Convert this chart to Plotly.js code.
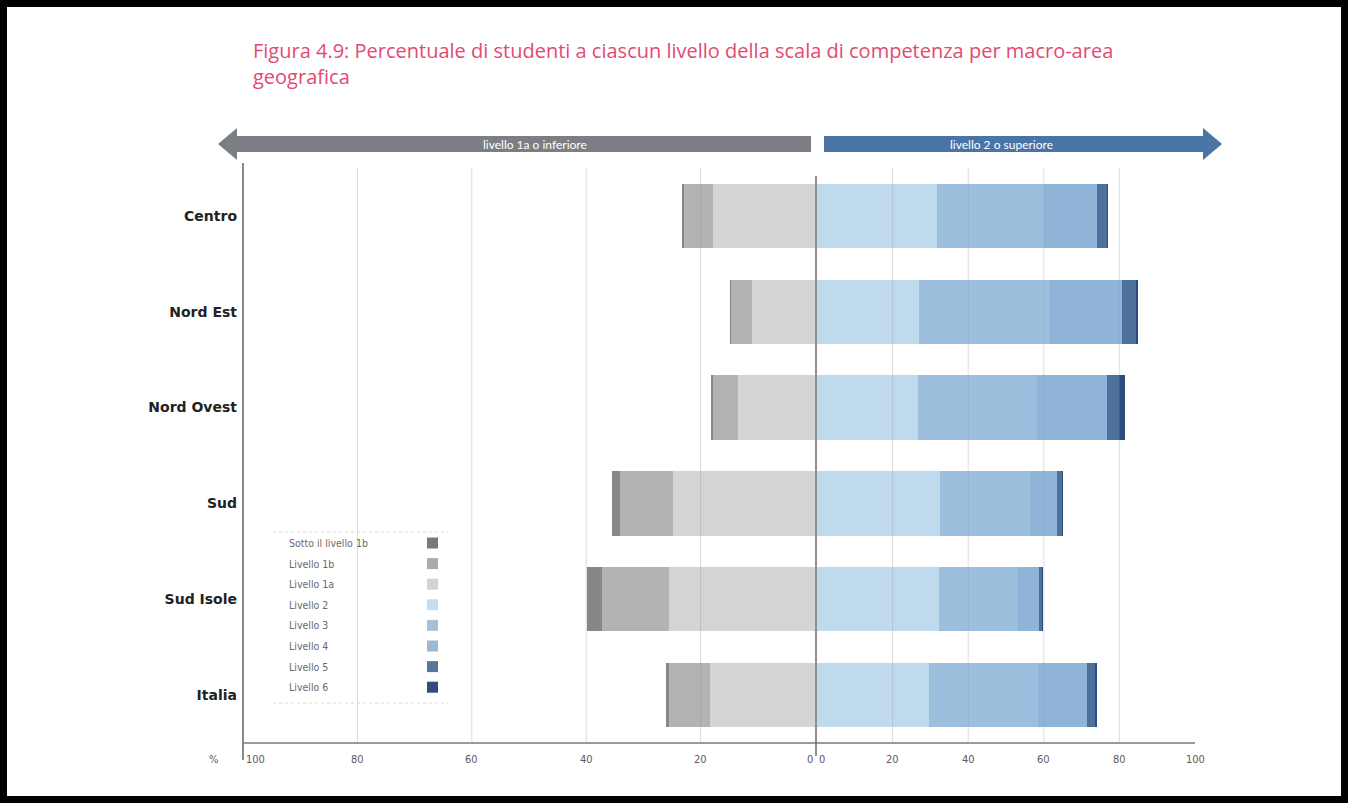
<!DOCTYPE html>
<html>
<head>
<meta charset="utf-8">
<script src="https://cdn.plot.ly/plotly-3.0.1.min.js"></script>
<style>
  html, body { margin: 0; padding: 0; background: #fff; }
  #wrap { position: relative; width: 1348px; height: 803px; }
  #chart { width: 1348px; height: 803px; }
  #frame { position: absolute; left: 0; top: 0; width: 1348px; height: 803px; box-sizing: border-box; border: 7px solid #000; pointer-events: none; }
</style>
</head>
<body>
<div id="wrap"><div id="chart"></div><div id="frame"></div></div>
<script>
// ---- data ----
const areas = ["Centro", "Nord Est", "Nord Ovest", "Sud", "Sud Isole", "Italia"];
const levels = ["Sotto il livello 1b", "Livello 1b", "Livello 1a", "Livello 2", "Livello 3", "Livello 4", "Livello 5", "Livello 6"];
const sotto1b = [0.4, 0.3, 0.4, 1.4, 2.7, 0.5];
const liv1b   = [5.1, 3.6, 4.3, 9.3, 11.7, 7.1];
const liv1a   = [17.8, 11.0, 13.5, 24.8, 25.5, 18.4];
const liv2    = [31.8, 27.1, 26.6, 32.6, 32.4, 29.7];
const liv3    = [28.2, 34.5, 31.6, 23.7, 20.8, 28.7];
const liv4    = [14.2, 19.2, 18.6, 7.1, 5.5, 12.9];
const liv5    = [2.5, 3.6, 3.2, 1.3, 0.8, 2.3];
const liv6    = [0.4, 0.6, 1.4, 0.3, 0.2, 0.4];
const leftTicks = [100, 80, 60, 40, 20, 0];
const rightTicks = [0, 20, 40, 60, 80, 100];
const titleText = "Figura 4.9: Percentuale di studenti a ciascun livello della scala di competenza per macro-area<br>geografica";
const arrowLeftText = "livello 1a o inferiore";
const arrowRightText = "livello 2 o superiore";

const colors = {
  "Sotto il livello 1b": "#858789",
  "Livello 1b": "#b1b3b4",
  "Livello 1a": "#d4d4d4",
  "Livello 2": "#bfdaed",
  "Livello 3": "#9cbfdd",
  "Livello 4": "#8fb4d7",
  "Livello 5": "#4e719b",
  "Livello 6": "#2d4d7d"
};
const legendColors = {
  "Sotto il livello 1b": "#77797b",
  "Livello 1b": "#a9abad",
  "Livello 1a": "#d2d3d4",
  "Livello 2": "#c8dcee",
  "Livello 3": "#a6c0d9",
  "Livello 4": "#9fb8d1",
  "Livello 5": "#58769a",
  "Livello 6": "#2f4c7b"
};

// ---- geometry helpers (pixel -> paper) ----
const L = 243, R = 1195, T = 168, B = 743, W = 1348, H = 803;
const fx = px => (px - L) / (R - L);
const fy = py => (B - py) / (B - T);
const leftEnd = fx(815), rightStart = fx(817);

function bar(vals, name, axis) {
  return {
    type: "bar", orientation: "h", y: areas, x: vals, name: name,
    xaxis: axis, yaxis: "y",
    marker: { color: colors[name], line: { width: 0 } },
    width: 0.67, showlegend: false, hoverinfo: "x+name"
  };
}

const traces = [
  bar(liv1a, "Livello 1a", "x"),
  bar(liv1b, "Livello 1b", "x"),
  bar(sotto1b, "Sotto il livello 1b", "x"),
  bar(liv2, "Livello 2", "x2"),
  bar(liv3, "Livello 3", "x2"),
  bar(liv4, "Livello 4", "x2"),
  bar(liv5, "Livello 5", "x2"),
  bar(liv6, "Livello 6", "x2")
];

const shapes = [];
const annotations = [];

// gridlines drawn faintly above bars
[20, 40, 60, 80].forEach(v => {
  shapes.push({ type: "line", xref: "x", yref: "paper", x0: v, x1: v, y0: 0, y1: 1, layer: "above",
    line: { color: "rgba(150,150,150,0.35)", width: 1 } });
  shapes.push({ type: "line", xref: "x2", yref: "paper", x0: v, x1: v, y0: 0, y1: 1, layer: "above",
    line: { color: "rgba(150,150,150,0.30)", width: 1 } });
});
// bottom axis line
shapes.push({ type: "line", xref: "paper", yref: "paper", x0: 0, x1: 1, y0: 0, y1: 0, layer: "above",
  line: { color: "#9a9a9a", width: 2 } });
// left vertical axis line
shapes.push({ type: "line", xref: "paper", yref: "paper", x0: 0, x1: 0, y0: fy(760), y1: fy(163), layer: "above",
  line: { color: "#8a8a8a", width: 2 } });
// zero line
shapes.push({ type: "line", xref: "paper", yref: "paper", x0: fx(816), x1: fx(816), y0: fy(756), y1: fy(176), layer: "above",
  line: { color: "#6a6a6a", width: 1.5 } });

// arrows
const yA = [128, 136, 144, 152, 160].map(fy);
shapes.push({ type: "path", xref: "paper", yref: "paper", layer: "above",
  path: `M ${fx(218)} ${yA[2]} L ${fx(237)} ${yA[0]} L ${fx(237)} ${yA[1]} L ${fx(811)} ${yA[1]} L ${fx(811)} ${yA[3]} L ${fx(237)} ${yA[3]} L ${fx(237)} ${yA[4]} Z`,
  fillcolor: "#7b7f84", line: { width: 0 } });
shapes.push({ type: "path", xref: "paper", yref: "paper", layer: "above",
  path: `M ${fx(1222)} ${yA[2]} L ${fx(1203)} ${yA[0]} L ${fx(1203)} ${yA[1]} L ${fx(824)} ${yA[1]} L ${fx(824)} ${yA[3]} L ${fx(1203)} ${yA[3]} L ${fx(1203)} ${yA[4]} Z`,
  fillcolor: "#4a74a5", line: { width: 0 } });
annotations.push({ xref: "paper", yref: "paper", x: fx(535), y: yA[2], text: arrowLeftText, showarrow: false,
  font: { family: "Lato, sans-serif", size: 12, color: "#ffffff" }, xanchor: "center", yanchor: "middle" });
annotations.push({ xref: "paper", yref: "paper", x: fx(1001), y: yA[2], text: arrowRightText, showarrow: false,
  font: { family: "Lato, sans-serif", size: 12, color: "#ffffff" }, xanchor: "center", yanchor: "middle" });

// tick labels (from tick arrays), nudged like the original
const tickFont = { family: "Liberation Sans Narrow, DejaVu Sans Condensed, sans-serif", size: 11, color: "#5a5a5a" };
leftTicks.forEach(v => {
  annotations.push({ xref: "x", yref: "paper", x: v, y: fy(759), text: String(v), showarrow: false,
    xshift: v === 100 ? 12 : (v === 0 ? -5 : 0), font: tickFont, xanchor: "center", yanchor: "middle" });
});
rightTicks.forEach(v => {
  annotations.push({ xref: "x2", yref: "paper", x: v, y: fy(759), text: String(v), showarrow: false,
    xshift: v === 0 ? 5 : 0, font: tickFont, xanchor: "center", yanchor: "middle" });
});
// percent sign
annotations.push({ xref: "paper", yref: "paper", x: fx(213), y: fy(759), text: "%", showarrow: false,
  font: tickFont, xanchor: "center", yanchor: "middle" });

// custom legend (swatch on the right)
shapes.push({ type: "line", xref: "paper", yref: "paper", x0: fx(273), x1: fx(448), y0: fy(532), y1: fy(532),
  line: { color: "#d8d8d8", width: 1, dash: "dot" } });
shapes.push({ type: "line", xref: "paper", yref: "paper", x0: fx(273), x1: fx(448), y0: fy(703), y1: fy(703),
  line: { color: "#d8d8d8", width: 1, dash: "dot" } });
levels.forEach((lv, i) => {
  const py = 543 + i * 20.6;
  annotations.push({ xref: "paper", yref: "paper", x: fx(287), y: fy(py), text: lv, showarrow: false,
    font: { family: "Liberation Sans Narrow, DejaVu Sans Condensed, sans-serif", size: 10.5, color: "#6a6a6a" },
    xanchor: "left", yanchor: "middle" });
  shapes.push({ type: "rect", xref: "paper", yref: "paper", x0: fx(427), x1: fx(438), y0: fy(py - 5.5), y1: fy(py + 5.5),
    fillcolor: legendColors[lv], line: { width: 0 } });
});

// title as two-line annotation placed like the original
annotations.push({ xref: "paper", yref: "paper", x: fx(251), y: fy(35), xanchor: "left", yanchor: "top",
  align: "left", text: titleText, showarrow: false,
  font: { family: "Open Sans, sans-serif", size: 20, color: "#e24a72" } });

const layout = {
  width: W, height: H,
  margin: { l: L, r: W - R, t: T, b: H - B },
  paper_bgcolor: "#ffffff", plot_bgcolor: "#ffffff",
  barmode: "stack", bargap: 0.33,
  showlegend: false,
  xaxis: {
    domain: [0, leftEnd], range: [100, 0], tickvals: leftTicks,
    showgrid: false, zeroline: false, showline: false, ticks: "", showticklabels: false,
    fixedrange: true
  },
  xaxis2: {
    domain: [rightStart, 1], range: [0, 100], anchor: "y", tickvals: rightTicks,
    showgrid: false, zeroline: false, showline: false, ticks: "", showticklabels: false,
    fixedrange: true
  },
  yaxis: {
    categoryorder: "array", categoryarray: areas, autorange: "reversed",
    showgrid: false, zeroline: false, showline: false, ticks: "",
    tickfont: { family: "DejaVu Sans, sans-serif", size: 14, color: "#222", weight: "bold" },
    ticklabelstandoff: 5, fixedrange: true
  },
  shapes: shapes,
  annotations: annotations
};

Plotly.newPlot("chart", traces, layout, { displayModeBar: false, staticPlot: true });
</script>
</body>
</html>
